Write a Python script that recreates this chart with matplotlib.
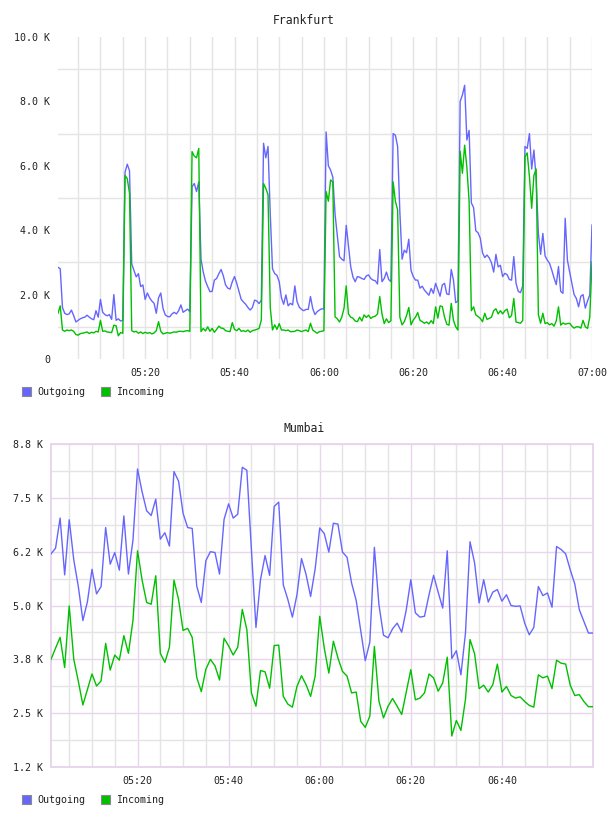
import matplotlib
matplotlib.use('Agg')
import matplotlib.dates as mdates
import matplotlib.pyplot as plt
import pandas as pd
from matplotlib.patches import Patch

# %%
FONT = 'DejaVu Sans Mono'
BLUE = '#6666ff'
GREEN = '#00c000'
GRID_GREY = '#e4e4e4'
GRID_PURPLE = '#e8d6ec'
TEXT = '#222222'

# Frankfurt: 30 s samples, 05:00:30 .. 07:00
fra_time = pd.date_range('2024-01-01 05:00:30', periods=240, freq='30s')
fra_out = [
    2850, 2800, 1600, 1420, 1380, 1400, 1520, 1350, 1150, 1200,
    1250, 1280, 1300, 1360, 1300, 1250, 1220, 1500, 1300, 1850,
    1450, 1380, 1340, 1380, 1230, 2000, 1200, 1250, 1180, 1200,
    5800, 6050, 5850, 2950, 2750, 2550, 2650, 2250, 2300, 1850,
    2050, 1900, 1800, 1730, 1420, 1900, 2050, 1570, 1370, 1320,
    1310, 1400, 1450, 1400, 1500, 1680, 1450, 1500, 1550, 1470,
    5350, 5450, 5200, 5500, 3100, 2700, 2420, 2250, 2090, 2100,
    2450, 2500, 2650, 2780, 2580, 2300, 2200, 2170, 2400, 2560,
    2350, 2100, 1850, 1770, 1700, 1600, 1520, 1600, 1830, 1800,
    1720, 1830, 6700, 6250, 6600, 4500, 2800, 2650, 2600, 2400,
    1900, 1700, 1990, 1650, 1730, 1680, 2270, 1780, 1610, 1540,
    1500, 1540, 1540, 1940, 1570, 1380, 1470, 1520, 1560, 1550,
    7050, 6000, 5870, 5650, 4500, 3850, 3180, 3100, 3050, 4150,
    3500, 2870, 2550, 2400, 2560, 2540, 2500, 2470, 2580, 2610,
    2500, 2450, 2430, 2330, 3400, 2400, 2500, 2700, 2470, 2400,
    7000, 6950, 6600, 4570, 3100, 3380, 3300, 3720, 2750, 2560,
    2450, 2450, 2200, 2260, 2140, 2060, 1980, 2190, 2040, 2350,
    2150, 1950, 2300, 2350, 2020, 2000, 2780, 2450, 1750, 1800,
    8000, 8200, 8500, 6800, 7100, 4850, 4700, 3980, 3920, 3750,
    3300, 3150, 3230, 3140, 2990, 2700, 3250, 2860, 2910, 2560,
    2660, 2620, 2470, 2450, 3180, 2350, 2100, 2060, 2270, 6600,
    6540, 7000, 5900, 6490, 5600, 3900, 3250, 3900, 3200, 3070,
    2970, 2760, 2520, 2310, 2870, 2100, 2040, 4370, 3070, 2700,
    2350, 2000, 1880, 1620, 1950, 2000, 1580, 1800, 1990, 4160,
]
fra_in = [
    1420, 1650, 900, 860, 900, 880, 900, 860, 760, 740,
    790, 800, 820, 840, 790, 830, 810, 860, 840, 1200,
    860, 870, 840, 830, 820, 1050, 1030, 720, 820, 800,
    5700, 5600, 5150, 880, 840, 860, 800, 840, 790, 830,
    800, 820, 780, 810, 880, 1160, 860, 780, 800, 820,
    800, 820, 840, 830, 860, 860, 850, 870, 880, 860,
    6440, 6300, 6250, 6540, 850, 950, 870, 1000, 860, 950,
    830, 920, 1020, 960, 950, 880, 860, 850, 1130, 920,
    880, 950, 860, 880, 850, 900, 830, 880, 900, 920,
    950, 1210, 5450, 5300, 5100, 1600, 900, 1060, 920, 1100,
    900, 900, 880, 900, 850, 850, 860, 900, 880, 850,
    880, 900, 850, 1110, 900, 850, 800, 850, 860, 880,
    5200, 4900, 5560, 5500, 1310, 1250, 1150, 1300, 1570, 2270,
    1400, 1300, 1270, 1180, 1160, 1300, 1180, 1370, 1290, 1360,
    1260, 1310, 1330, 1400, 1940, 1400, 1100, 1250, 1130, 1190,
    5500, 4900, 4630, 1300, 1060, 1160, 1350, 1600, 1060, 1210,
    1300, 1440, 1200, 1160, 1110, 1150, 1090, 1190, 1100, 1620,
    1270, 1650, 1630, 1300, 1080, 1050, 1730, 1200, 1000, 900,
    6450, 5770, 6640, 5950, 4900, 1500, 1620, 1370, 1320, 1260,
    1160, 1420, 1230, 1260, 1300, 1500, 1560, 1400, 1500, 1400,
    1500, 1550, 1280, 1350, 1880, 1150, 1130, 1110, 1200, 6280,
    6400, 5660, 4680, 5700, 5900, 1380, 1110, 1420, 1100, 1130,
    1060, 1100, 1020, 1180, 1620, 1050, 1120, 1080, 1100, 1110,
    1020, 960, 1000, 1000, 960, 1200, 1000, 950, 1300, 3020,
]
fra_yticks = [0, 2000, 4000, 6000, 8000, 10000]
fra_ylabels = ['0', '2.0 K', '4.0 K', '6.0 K', '8.0 K', '10.0 K']
fra_ygrid = [1000, 3000, 5000, 7000, 9000]
fra_xlabels = ['05:20', '05:40', '06:00', '06:20', '06:40', '07:00']

# Mumbai: 1 min samples, 05:01 .. 07:00
mum_time = pd.date_range('2024-01-01 05:01', periods=120, freq='min')
mum_out = [
    6200, 6330, 7030, 5710, 6990, 6060, 5440, 4650, 5090, 5840,
    5270, 5440, 6810, 5960, 6230, 5820, 7080, 5730, 6520, 8170,
    7640, 7200, 7090, 7470, 6540, 6690, 6380, 8110, 7890, 7140,
    6810, 6790, 5450, 5070, 6040, 6250, 6230, 5730, 7000, 7360,
    7030, 7120, 8210, 8140, 6300, 4490, 5600, 6160, 5700, 7300,
    7400, 5480, 5140, 4730, 5250, 6090, 5720, 5210, 5850, 6800,
    6670, 6240, 6910, 6890, 6240, 6120, 5520, 5120, 4420, 3720,
    4150, 6350, 5020, 4310, 4250, 4460, 4590, 4380, 4900, 5600,
    4830, 4730, 4750, 5250, 5700, 5310, 4940, 6270, 3770, 3950,
    3390, 4360, 6480, 5990, 5060, 5600, 5080, 5310, 5370, 5100,
    5250, 5000, 4980, 4990, 4590, 4320, 4490, 5440, 5230, 5290,
    4960, 6370, 6300, 6200, 5830, 5500, 4900, 4630, 4360, 4360,
]
mum_in = [
    3750, 4010, 4260, 3560, 4990, 3750, 3240, 2690, 3050, 3410,
    3130, 3250, 4120, 3500, 3850, 3730, 4300, 3890, 4660, 6270,
    5590, 5070, 5030, 5690, 3890, 3680, 4030, 5590, 5140, 4420,
    4470, 4260, 3330, 3000, 3520, 3750, 3600, 3270, 4240, 4060,
    3850, 4030, 4910, 4440, 2970, 2660, 3490, 3460, 3080, 4070,
    4080, 2890, 2710, 2640, 3120, 3370, 3160, 2890, 3360, 4750,
    4010, 3430, 4170, 3780, 3470, 3360, 2970, 2990, 2310, 2170,
    2430, 4050, 2780, 2390, 2660, 2840, 2660, 2470, 2990, 3510,
    2810, 2850, 2970, 3410, 3320, 3010, 3200, 3800, 1970, 2330,
    2100, 2820, 4210, 3880, 3070, 3150, 2990, 3160, 3640, 2990,
    3120, 2910, 2850, 2880, 2770, 2680, 2640, 3390, 3320, 3360,
    3070, 3730, 3660, 3640, 3150, 2910, 2930, 2770, 2650, 2650,
]
mum_yticks = [1250, 2500, 3750, 5000, 6250, 7500, 8750]
mum_ylabels = ['1.2 K', '2.5 K', '3.8 K', '5.0 K', '6.2 K', '7.5 K', '8.8 K']
mum_yminor = [1875, 3125, 4375, 5625, 6875, 8125]
mum_xlabels = ['05:20', '05:40', '06:00', '06:20', '06:40']


# %%
def to_times(labels):
    return [pd.Timestamp('2024-01-01 ' + s) for s in labels]


def add_legend(ax, fig, y_px):
    handles = [
        Patch(facecolor=BLUE, edgecolor='#8a8a8a', linewidth=0.8, label='Outgoing'),
        Patch(facecolor=GREEN, edgecolor='#8a8a8a', linewidth=0.8, label='Incoming'),
    ]
    ax.legend(
        handles=handles, loc='center left',
        bbox_to_anchor=(22 / W, 1 - y_px / H), bbox_transform=fig.transFigure,
        ncol=2, frameon=False, handlelength=0.9, handleheight=0.9,
        handletextpad=0.6, columnspacing=1.6, borderpad=0, borderaxespad=0,
        prop={'family': FONT, 'size': 7.2}, labelcolor=TEXT,
    )


def style_ticks(ax):
    ax.tick_params(axis='both', which='both', length=0, labelsize=7.2, colors=TEXT)
    ax.tick_params(axis='y', pad=5.5)
    ax.tick_params(axis='x', pad=6.5)
    for lbl in ax.get_xticklabels() + ax.get_yticklabels():
        lbl.set_family(FONT)


# %%
W, H = 608, 816
fig = plt.figure(figsize=(W / 100, H / 100), dpi=100)

# --- Frankfurt ---
ax1 = fig.add_axes([58 / W, 1 - 359 / H, (592 - 58) / W, (359 - 37) / H])
ax1.plot(fra_time, fra_out, color=BLUE, lw=1.0, zorder=3)
ax1.plot(fra_time, fra_in, color=GREEN, lw=1.0, zorder=4)
ax1.set_xlim(fra_time[0], fra_time[-1])
ax1.set_ylim(0, 10000)
ax1.set_yticks(fra_yticks, fra_ylabels)
ax1.set_yticks(fra_ygrid, minor=True)
ax1.set_xticks(to_times(fra_xlabels), fra_xlabels)
ax1.xaxis.set_minor_locator(mdates.MinuteLocator(byminute=range(0, 60, 5)))
ax1.grid(True, axis='y', which='minor', color=GRID_GREY, lw=1.0)
ax1.grid(True, axis='x', which='both', color=GRID_GREY, lw=1.0)
ax1.set_axisbelow(True)
for s in ax1.spines.values():
    s.set_visible(False)
style_ticks(ax1)
fig.text(0.5, 1 - 20 / H, 'Frankfurt', ha='center', va='center',
         family=FONT, fontsize=8.3, color=TEXT)
add_legend(ax1, fig, 392)

# --- Mumbai ---
ax2 = fig.add_axes([51 / W, 1 - 767 / H, (593 - 51) / W, (767 - 444) / H])
ax2.plot(mum_time, mum_out, color=BLUE, lw=1.0, zorder=3)
ax2.plot(mum_time, mum_in, color=GREEN, lw=1.0, zorder=4)
ax2.set_xlim(mum_time[0], mum_time[-1])
ax2.set_ylim(mum_yticks[0], mum_yticks[-1])
ax2.set_yticks(mum_yticks, mum_ylabels)
ax2.set_yticks(mum_yminor, minor=True)
ax2.set_xticks(to_times(mum_xlabels), mum_xlabels)
ax2.xaxis.set_minor_locator(mdates.MinuteLocator(byminute=range(0, 60, 5)))
ax2.grid(True, which='minor', color=GRID_GREY, lw=1.0)
ax2.grid(True, which='major', color=GRID_PURPLE, lw=1.0)
ax2.set_axisbelow(True)
for s in ax2.spines.values():
    s.set_color(GRID_PURPLE)
    s.set_linewidth(1.4)
style_ticks(ax2)
fig.text(0.5, 1 - 429 / H, 'Mumbai', ha='center', va='center',
         family=FONT, fontsize=8.3, color=TEXT)
add_legend(ax2, fig, 800)

fig.savefig('out.png', dpi=100)
